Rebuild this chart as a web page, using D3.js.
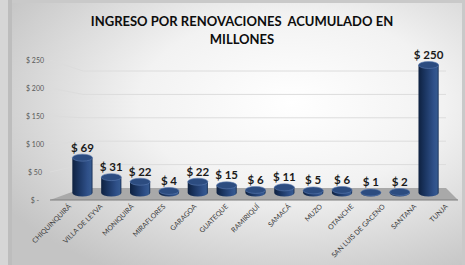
<!DOCTYPE html>
<html>
<head>
<meta charset="utf-8">
<script src="https://cdn.jsdelivr.net/npm/d3@7"></script>
<style>
  body { margin: 0; background: #c9c9c9; }
  svg { display: block; }
  .title { white-space: pre; }
</style>
</head>
<body>
<div id="chart-area"></div>
<script>

// data
var cities = ["CHIQUINQUIRÁ", "VILLA DE LEYVA", "MONIQUIRÁ", "MIRAFLORES", "GARAGOA", "GUATEQUE",
	"RAMIRIQUÍ", "SAMACÁ", "MUZO", "OTANCHE", "SAN LUIS DE GACENO", "SANTANA", "TUNJA"];
var ingreso = [69, 31, 22, 4, 22, 15, 6, 11, 5, 6, 1, 2, 250];
var yTicks = [0, 50, 100, 150, 200, 250];
var title1 = "INGRESO POR RENOVACIONES  ACUMULADO EN";
var title2 = "MILLONES";

var width = 465, height = 265;

var svg = d3.select("#chart-area").append("svg")
	.attr("width", width)
	.attr("height", height);

var defs = svg.append("defs");

// panel background gradient
var bg = defs.append("radialGradient")
	.attr("id", "bg")
	.attr("cx", "62%").attr("cy", "38%").attr("r", "75%");
bg.append("stop").attr("offset", "0%").attr("stop-color", "#ffffff");
bg.append("stop").attr("offset", "45%").attr("stop-color", "#f2f2f2");
bg.append("stop").attr("offset", "100%").attr("stop-color", "#c4c4c4");

// cylinder body gradient
var body = defs.append("linearGradient")
	.attr("id", "body")
	.attr("x1", "0%").attr("x2", "100%").attr("y1", "0%").attr("y2", "0%");
body.append("stop").attr("offset", "0%").attr("stop-color", "#0e2140");
body.append("stop").attr("offset", "35%").attr("stop-color", "#1c3764");
body.append("stop").attr("offset", "75%").attr("stop-color", "#2f5089");
body.append("stop").attr("offset", "92%").attr("stop-color", "#35598f");
body.append("stop").attr("offset", "100%").attr("stop-color", "#142b52");

// outer frame
svg.append("rect").attr("x", 0).attr("y", 0).attr("width", 8).attr("height", height).attr("fill", "#d6d6d6");
svg.append("rect").attr("x", 8).attr("y", 0).attr("width", 4).attr("height", height).attr("fill", "#bdbdbd");
svg.append("rect")
	.attr("x", 12).attr("y", 3)
	.attr("width", 450).attr("height", 262)
	.attr("fill", "url(#bg)");

// scales: front plane, back wall, bar plane
var yFront = d3.scaleLinear().domain([0, 250]).range([200, 60]);
var yBack = d3.scaleLinear().domain([0, 250]).range([188, 71]);
var yBar = d3.scaleLinear().domain([0, 250]).range([193, 65]);

var x = d3.scaleBand()
	.domain(cities)
	.range([68, 443])
	.paddingInner(0.3)
	.paddingOuter(0.15);

var xFront = d3.scaleBand()
	.domain(cities)
	.range([50, 458]);

var wallLeftFront = 50, wallLeftBack = 83, wallRight = 446;

// gridlines
svg.selectAll(".grid")
	.data(yTicks.filter(function(d){ return d > 0; }))
	.enter().append("polyline")
	.attr("class", "grid")
	.attr("fill", "none")
	.attr("stroke", "#dcdcdc")
	.attr("stroke-width", 1)
	.attr("points", function(d){
		return wallLeftFront + "," + yFront(d) + " " + wallLeftBack + "," + yBack(d) + " " + wallRight + "," + yBack(d);
	});

// floor
svg.append("polygon")
	.attr("fill", "#a9a9a9")
	.attr("points", wallLeftFront + "," + yFront(0) + " " + wallLeftBack + "," + yBack(0) + " " +
		wallRight + "," + yBack(0) + " " + 458 + "," + yFront(0));
svg.append("line")
	.attr("x1", wallLeftFront).attr("x2", 458)
	.attr("y1", yFront(0)).attr("y2", yFront(0))
	.attr("stroke", "#7f7f7f").attr("stroke-width", 1);

// y axis labels
svg.selectAll(".ylab")
	.data(yTicks)
	.enter().append("text")
	.attr("class", "ylab")
	.attr("x", 35)
	.attr("y", function(d){ return yFront(d) + 2.5; })
	.attr("text-anchor", "middle")
	.attr("font-family", "Lato, 'Open Sans', sans-serif")
	.attr("font-size", "7px")
	.attr("fill", "#595959")
	.text(function(d){ return d === 0 ? "$ -" : "$ " + d; });

// cylinders
var ry = 3.5;
var bars = svg.selectAll(".bar")
	.data(ingreso)
	.enter().append("g")
	.attr("class", "bar");

bars.append("path")
	.attr("fill", "url(#body)")
	.attr("d", function(d, i){
		var x0 = x(cities[i]), w = x.bandwidth(), r = w / 2;
		var top = yBar(d), bot = yBar(0);
		return "M" + x0 + "," + top +
			"L" + x0 + "," + bot +
			"A" + r + "," + ry + " 0 0 0 " + (x0 + w) + "," + bot +
			"L" + (x0 + w) + "," + top + "Z";
	});

bars.append("ellipse")
	.attr("cx", function(d, i){ return x(cities[i]) + x.bandwidth() / 2; })
	.attr("cy", function(d){ return yBar(d); })
	.attr("rx", x.bandwidth() / 2)
	.attr("ry", ry)
	.attr("fill", "#2c4c80")
	.attr("stroke", "#5a7bb0")
	.attr("stroke-width", 0.6);

// value labels
svg.selectAll(".val")
	.data(ingreso)
	.enter().append("text")
	.attr("class", "val")
	.attr("x", function(d, i){ return x(cities[i]) + x.bandwidth() / 2; })
	.attr("y", function(d){ return yBar(d) - 6; })
	.attr("text-anchor", "middle")
	.attr("font-family", "Lato, 'Open Sans', sans-serif")
	.attr("font-weight", "bold")
	.attr("font-size", "11.5px")
	.attr("fill", "#1a1a1a")
	.text(function(d){ return "$ " + d; });

// category labels
svg.selectAll(".xlab")
	.data(cities)
	.enter().append("text")
	.attr("class", "xlab")
	.attr("text-anchor", "end")
	.attr("font-family", "Lato, 'Open Sans', sans-serif")
	.attr("font-size", "7px")
	.attr("fill", "#404040")
	.attr("transform", function(d){
		return "translate(" + (xFront(d) + xFront.bandwidth() / 2 + 6) + "," + 207 + ") rotate(-45)";
	})
	.text(function(d){ return d; });

// title
svg.append("text")
	.attr("class", "title")
	.attr("x", 242).attr("y", 26)
	.attr("text-anchor", "middle")
	.attr("font-family", "Lato, 'Open Sans', sans-serif")
	.attr("font-weight", "bold")
	.attr("font-size", "13px")
	.attr("fill", "#0d0d0d")
	.text(title1);
svg.append("text")
	.attr("class", "title")
	.attr("x", 242).attr("y", 44)
	.attr("text-anchor", "middle")
	.attr("font-family", "Lato, 'Open Sans', sans-serif")
	.attr("font-weight", "bold")
	.attr("font-size", "13px")
	.attr("fill", "#0d0d0d")
	.text(title2);

</script>
</body>
</html>
